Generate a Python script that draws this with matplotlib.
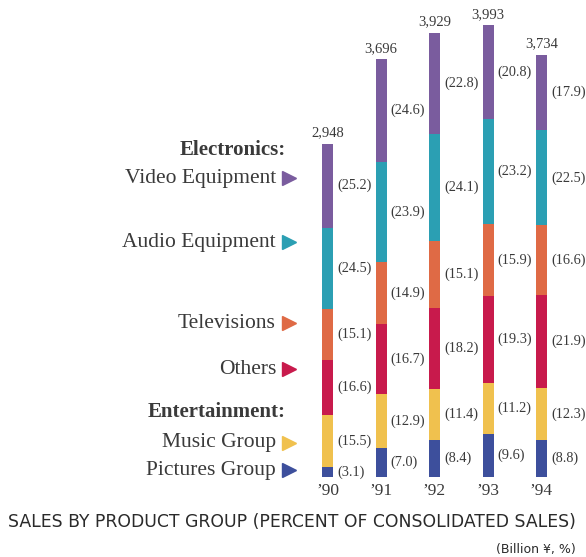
import matplotlib.pyplot as plt
import numpy as np

years = ["\u201990", "\u201991", "\u201992", "\u201993", "\u201994"]
totals = [2948, 3696, 3929, 3993, 3734]

# percent shares, bottom to top
groups = ["Pictures Group", "Music Group", "Others", "Televisions",
          "Audio Equipment", "Video Equipment"]
pictures = [3.1, 7.0, 8.4, 9.6, 8.8]
music = [15.5, 12.9, 11.4, 11.2, 12.3]
others = [16.6, 16.7, 18.2, 19.3, 21.9]
televisions = [15.1, 14.9, 15.1, 15.9, 16.6]
audio = [24.5, 23.9, 24.1, 23.2, 22.5]
video = [25.2, 24.6, 22.8, 20.8, 17.9]

colors = ["#3d4f9c", "#f0c14e", "#c81a4c", "#df6a45", "#2b9fb3", "#7a5c9e"]
text_color = "#3a3a3a"
serif = "Liberation Serif"

W, H = 586, 557
fig = plt.figure(figsize=(W / 100, H / 100), dpi=100)
ax = fig.add_axes([0, 0, 1, 1])
ax.axis("off")

# pixel layout: bar centres 327.5 + 53.5*i, baseline at 477 px from top
step = 53.5
x0 = 327.5
scale = 0.1131  # px per billion yen
ax.set_xlim(-x0 / step, (W - x0) / step)
ax.set_ylim(-(H - 477) / scale, 477 / scale)

x = np.arange(len(years))
width = 11 / step
shares = [pictures, music, others, televisions, audio, video]
bottom = np.zeros(len(years))
for share, c in zip(shares, colors):
    h = np.array(share) / 100 * np.array(totals)
    ax.bar(x, h, width, bottom=bottom, color=c, edgecolor="none")
    for xi, b, hh, v in zip(x, bottom, h, share):
        ax.text(xi + width / 2 + 4 / step, b + hh / 2, f"({v:.1f})",
                ha="left", va="center", fontsize=10.3, family=serif,
                color=text_color)
    bottom += h

for xi, t in zip(x, totals):
    ax.text(xi, t + 4 / scale, f"{t:,}", ha="center", va="bottom",
            fontsize=10.5, family=serif, color=text_color)
    ax.text(xi, -6 / scale, years[xi], ha="center", va="top",
            fontsize=12.5, family=serif, color=text_color)


def fy(py):
    return 1 - py / H


# legend on the left
headings = [("Electronics:", 150), ("Entertainment:", 412)]
for txt, py in headings:
    fig.text(286 / W, fy(py), txt, ha="right", va="center", fontsize=15,
             family=serif, fontweight="bold", color=text_color)

label_y = [470, 443, 369, 323, 242, 178]
for name, py, c in zip(groups, label_y, colors):
    fig.text(276 / W, fy(py), name, ha="right", va="center", fontsize=15.5,
             family=serif, color=text_color)
    ax.plot([289 / W], [fy(py)], marker=">", markersize=10, color=c,
            transform=fig.transFigure, clip_on=False)

fig.text(8 / W, fy(522), "SALES BY PRODUCT GROUP (PERCENT OF CONSOLIDATED SALES)",
         ha="left", va="center", fontsize=12.45, family="DejaVu Sans",
         color="#2a2a2a")
fig.text(576 / W, fy(549), "(Billion \u00a5, %)", ha="right", va="center",
         fontsize=9, family="DejaVu Sans", color="#2a2a2a")

fig.savefig("out.png", dpi=100, facecolor="white")
